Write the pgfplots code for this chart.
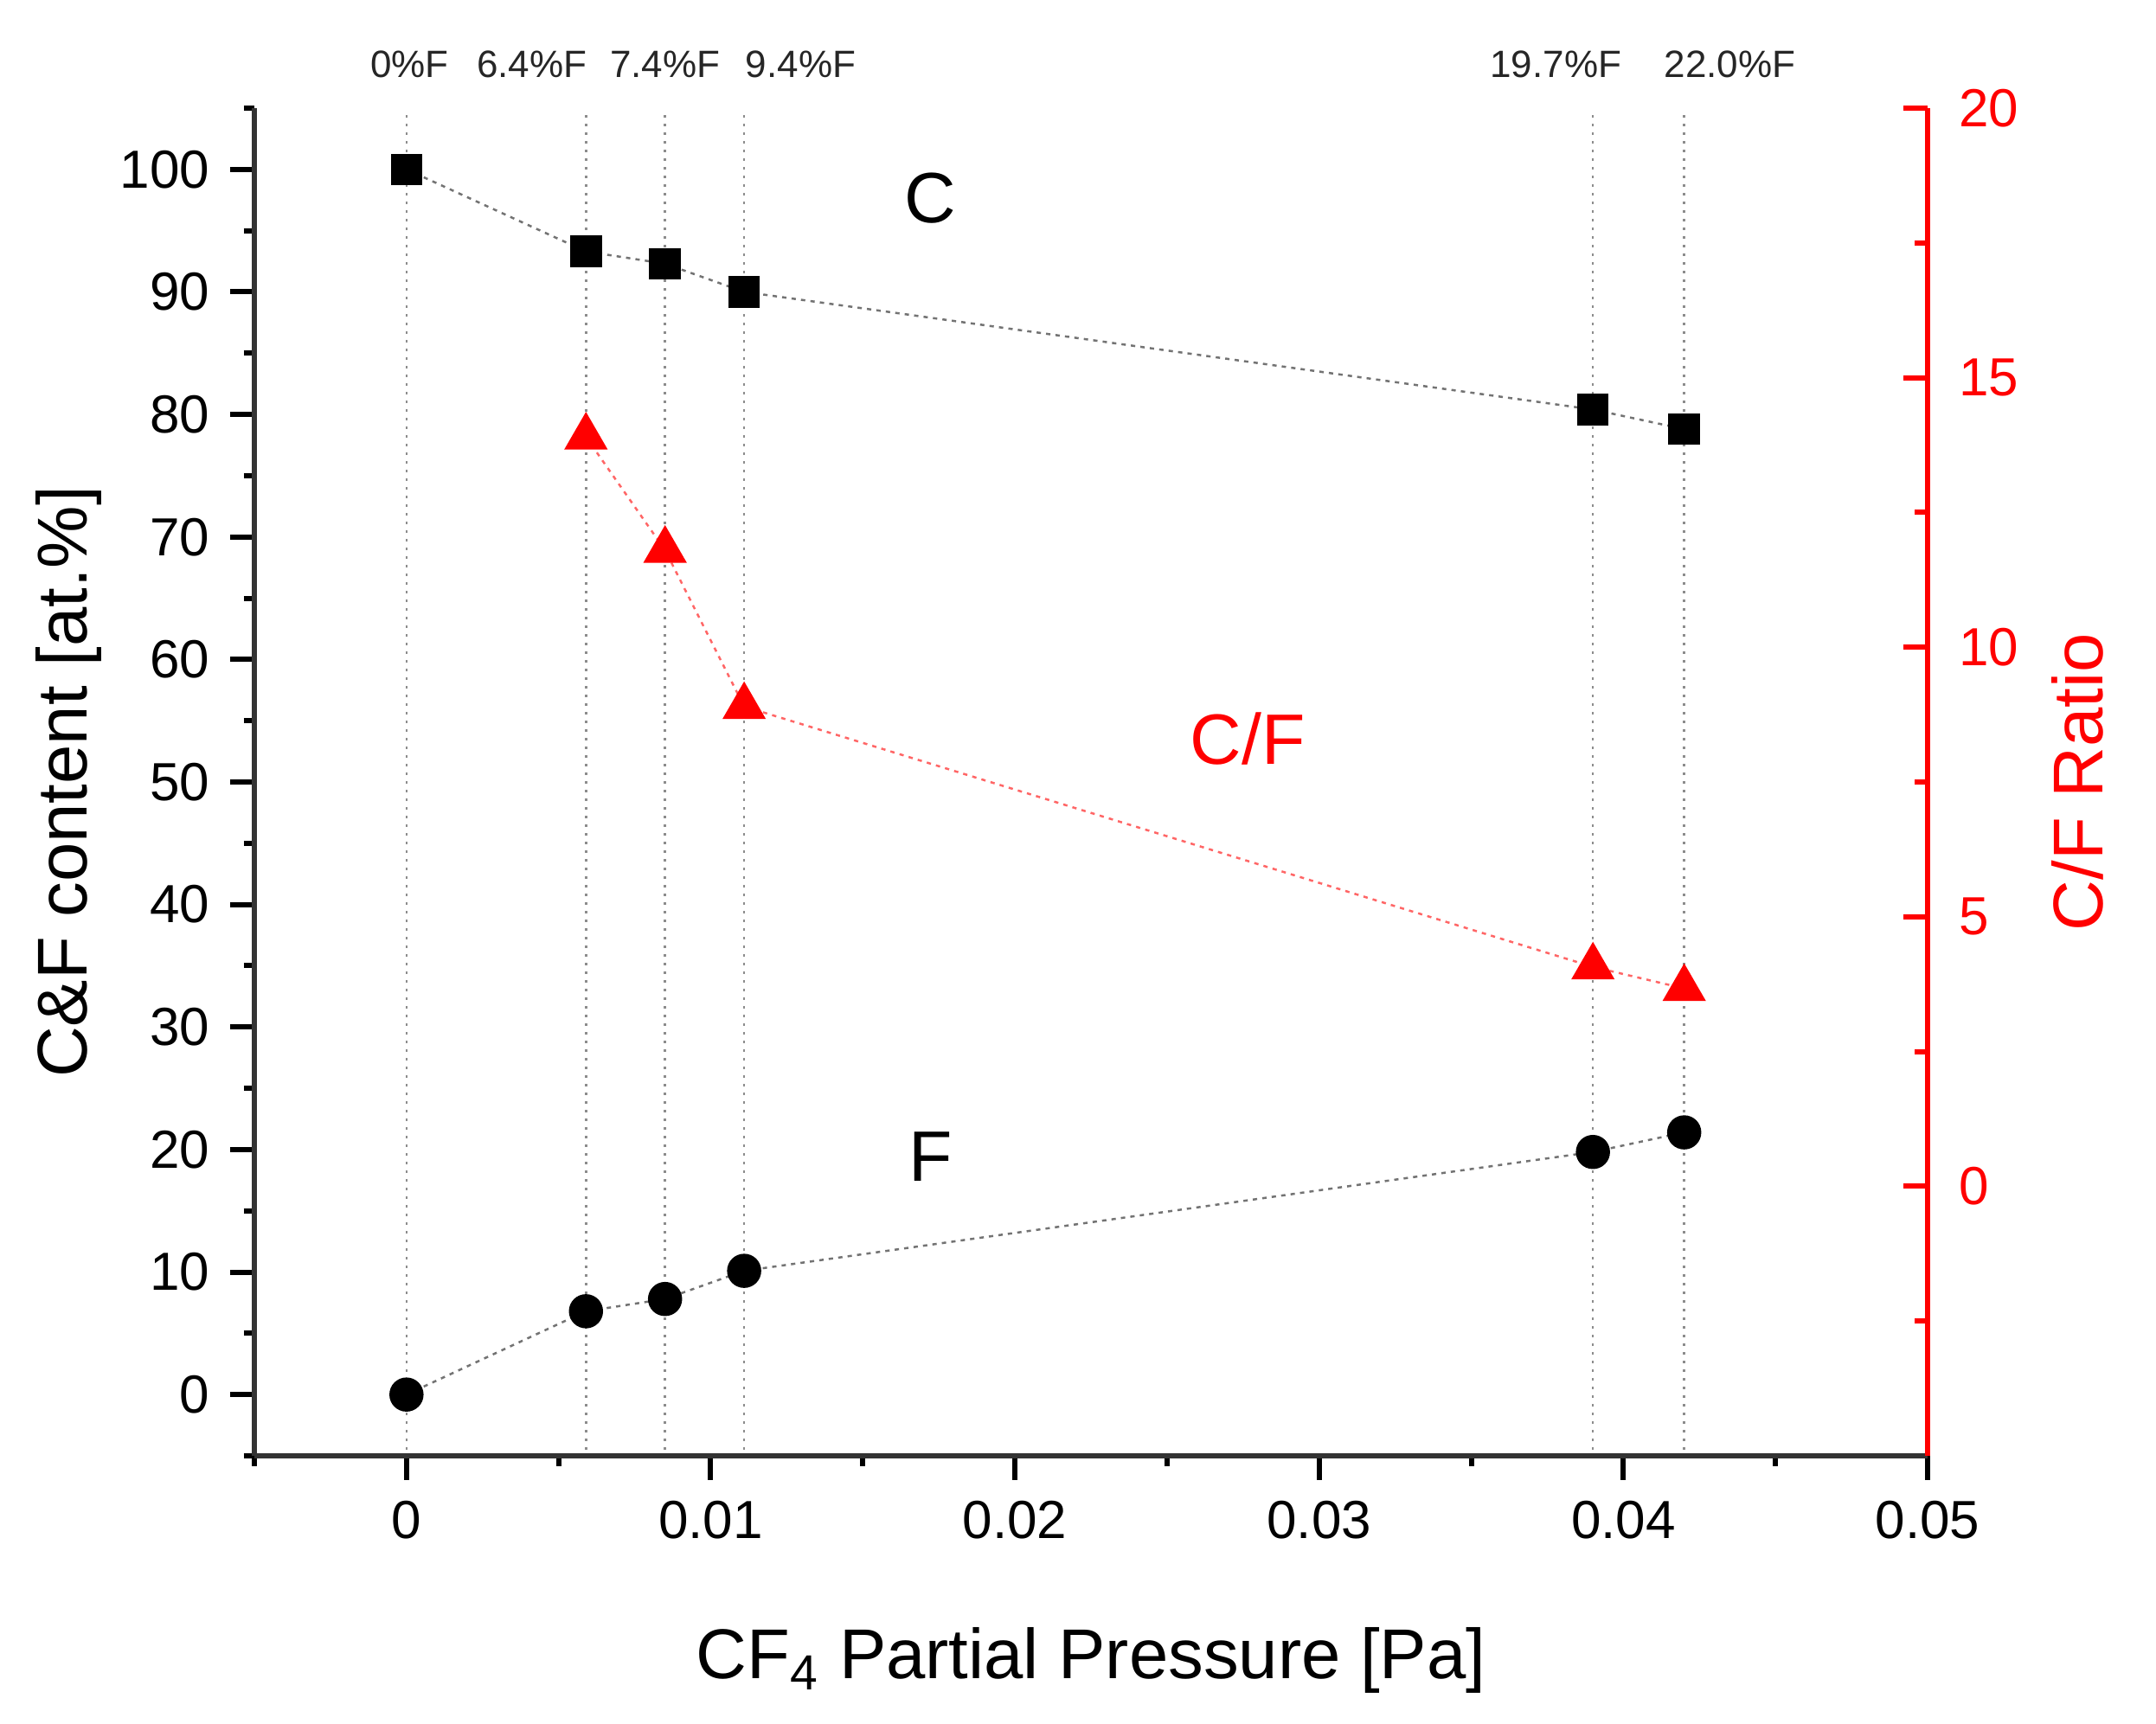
\documentclass[border=0pt]{standalone}
\usepackage{fontspec}
\setmainfont{Liberation Sans}
\usepackage{pgfplots}
\pgfplotsset{compat=1.18}
\definecolor{axgray}{RGB}{51,51,51}
\newcommand{\tickfont}{\fontsize{12.4}{14}\selectfont}
\newcommand{\labfont}{\fontsize{16.3}{19}\selectfont}
\newcommand{\topfont}{\fontsize{8.8}{10}\selectfont}
\newcommand{\annfont}{\fontsize{16.5}{19}\selectfont}
\begin{document}
\begin{tikzpicture}
\useasboundingbox (-58.8pt,-62pt) rectangle (439.6pt,336.6pt);
\begin{axis}[
  scale only axis, width=386.8pt, height=311.6pt,
  at={(0pt,0pt)}, anchor=south west,
  xmin=-0.005, xmax=0.05, ymin=-5, ymax=105,
  axis x line*=bottom, axis y line*=left,
  axis line style={axgray, line width=1.34pt, -},
  tick align=outside,
  scaled x ticks=false,
  xtick={0,0.01,0.02,0.03,0.04,0.05},
  xticklabels={0,0.01,0.02,0.03,0.04,0.05},
  minor xtick={-0.005,0.005,0.015,0.025,0.035,0.045},
  ytick={0,10,20,30,40,50,60,70,80,90,100},
  minor ytick={-5,5,15,25,35,45,55,65,75,85,95,105},
  major tick length=5.6pt, minor tick length=2.4pt,
  every tick/.style={black, line width=1.2pt},
  tick label style={font=\tickfont},
  /pgf/number format/assume math mode=true,
  yticklabel style={xshift=-1.2pt},
  xticklabel style={yshift=-1.4pt},
  xlabel={CF\textsubscript{4} Partial Pressure [Pa]},
  ylabel={C\&F content [at.\%]},
  label style={font=\labfont},
  xlabel style={at={(axis description cs:0.5,-0.165)}, anchor=base},
  ylabel style={at={(axis description cs:-0.1003,0.5)}, anchor=base, rotate=0},
  clip=false,
]
% vertical reference lines
\addplot[black!45, line width=0.5pt, dash pattern=on 0.6pt off 1.4pt] coordinates {(0,-4.5) (0,104.6)};
\addplot[black!45, line width=0.5pt, dash pattern=on 0.6pt off 1.4pt] coordinates {(0.0059,-4.5) (0.0059,104.6)};
\addplot[black!45, line width=0.5pt, dash pattern=on 0.6pt off 1.4pt] coordinates {(0.0085,-4.5) (0.0085,104.6)};
\addplot[black!45, line width=0.5pt, dash pattern=on 0.6pt off 1.4pt] coordinates {(0.0111,-4.5) (0.0111,104.6)};
\addplot[black!45, line width=0.5pt, dash pattern=on 0.6pt off 1.4pt] coordinates {(0.039,-4.5) (0.039,104.6)};
\addplot[black!45, line width=0.5pt, dash pattern=on 0.6pt off 1.4pt] coordinates {(0.042,-4.5) (0.042,104.6)};
% C content
\addplot[black!55, line width=0.5pt, dash pattern=on 1pt off 1.2pt,
  mark=square*, mark size=3.4pt, mark options={solid, fill=black, draw=black}]
  coordinates {(0,100) (0.0059,93.3) (0.0085,92.3) (0.0111,90.0) (0.039,80.4) (0.042,78.8)};
% F content
\addplot[black!55, line width=0.5pt, dash pattern=on 1pt off 1.2pt,
  mark=*, mark size=3.7pt, mark options={solid, fill=black, draw=black}]
  coordinates {(0,0) (0.0059,6.8) (0.0085,7.8) (0.0111,10.1) (0.039,19.8) (0.042,21.4)};
% annotations
\node[anchor=base, font=\annfont] at (axis cs:0.01723,95.65) {C};
\node[anchor=base, font=\annfont] at (axis cs:0.01723,17.39) {F};
\node[anchor=base, font=\annfont, red] at (axis cs:0.02765,51.48) {C/F};
% top labels
\node[anchor=base, font=\topfont, black!85] at (axis cs:0.0001,107.47) {0\%F};
\node[anchor=base, font=\topfont, black!85] at (axis cs:0.00412,107.47) {6.4\%F};
\node[anchor=base, font=\topfont, black!85] at (axis cs:0.0085,107.47) {7.4\%F};
\node[anchor=base, font=\topfont, black!85] at (axis cs:0.01296,107.47) {9.4\%F};
\node[anchor=base, font=\topfont, black!85] at (axis cs:0.03778,107.47) {19.7\%F};
\node[anchor=base, font=\topfont, black!85] at (axis cs:0.0435,107.47) {22.0\%F};
\end{axis}
\begin{axis}[
  scale only axis, width=386.8pt, height=311.6pt,
  at={(0pt,0pt)}, anchor=south west,
  xmin=-0.005, xmax=0.05, ymin=-5, ymax=20,
  axis x line=none, axis y line*=right,
  axis line style={red, line width=1.34pt, -},
  tick align=inside,
  ytick={0,5,10,15,20},
  minor ytick={-2.5,2.5,7.5,12.5,17.5},
  major tick length=5.6pt, minor tick length=3pt,
  every tick/.style={red, line width=1.2pt},
  yticklabel style={font=\tickfont, text=red, xshift=3.7pt},
  /pgf/number format/assume math mode=true,
  ylabel={C/F Ratio},
  ylabel style={font=\labfont, text=red, at={(axis description cs:1.1045,0.5)}, anchor=base, rotate=0},
  clip=false,
]
\addplot[red!60, line width=0.5pt, dash pattern=on 1pt off 1.2pt,
  mark=triangle*, mark size=5.3pt, mark options={solid, fill=red, draw=red}]
  coordinates {(0.0059,13.9) (0.0085,11.8) (0.0111,8.9) (0.039,4.07) (0.042,3.67)};
\end{axis}
\end{tikzpicture}
\end{document}
